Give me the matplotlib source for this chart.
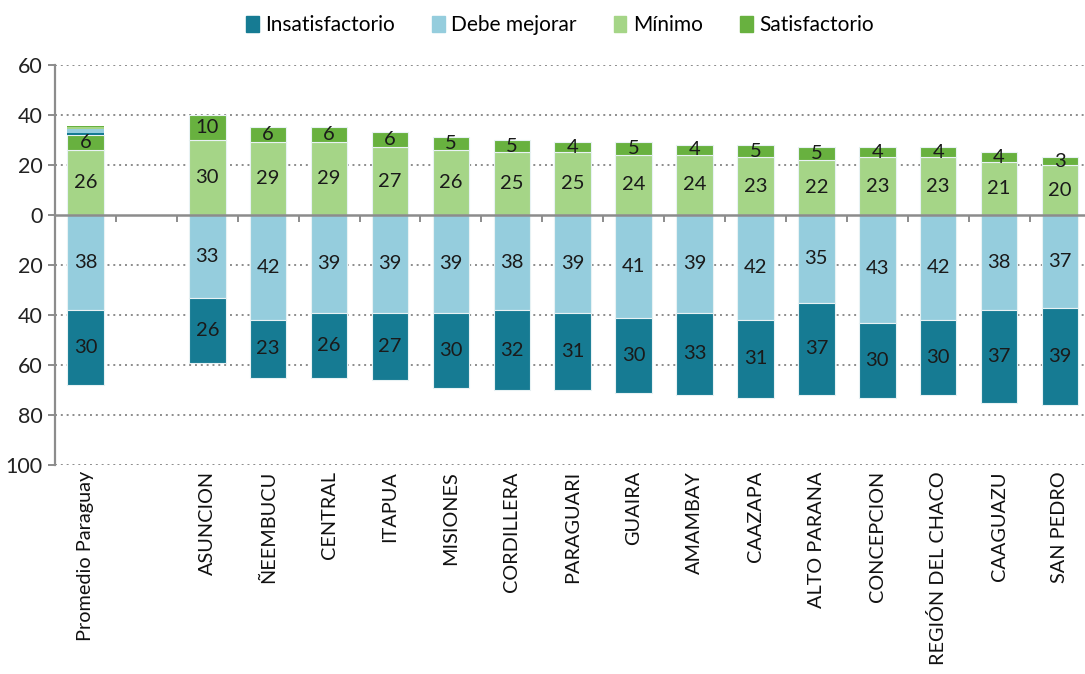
import matplotlib

matplotlib.use("Agg")
import matplotlib.pyplot as plt
import numpy as np
from matplotlib.patches import Patch

plt.rcParams["font.family"] = ["Lato", "DejaVu Sans"]

# departments, with an empty slot between the national average and the rest
regions = ["Promedio Paraguay", "", "ASUNCION", "ÑEEMBUCU", "CENTRAL", "ITAPUA",
           "MISIONES", "CORDILLERA", "PARAGUARI", "GUAIRA", "AMAMBAY", "CAAZAPA",
           "ALTO PARANA", "CONCEPCION", "REGIÓN DEL CHACO", "CAAGUAZU", "SAN PEDRO"]
satisfactorio = [6, None, 10, 6, 6, 6, 5, 5, 4, 5, 4, 5, 5, 4, 4, 4, 3]
minimo = [26, None, 30, 29, 29, 27, 26, 25, 25, 24, 24, 23, 22, 23, 23, 21, 20]
debe_mejorar = [38, None, 33, 42, 39, 39, 39, 38, 39, 41, 39, 42, 35, 43, 42, 38, 37]
insatisfactorio = [30, None, 26, 23, 26, 27, 30, 32, 31, 30, 33, 31, 37, 30, 30, 37, 39]
# thin leftover strip stacked on the average bar (Insat., Debe, Mín., Satisf.)
promedio_strip = [0.7, 1.5, 1.0, 0.5]

COLORS = {"Insatisfactorio": "#167b93", "Debe mejorar": "#95cddd",
          "Mínimo": "#a5d587", "Satisfactorio": "#68b13f"}
W = 0.6
FS = 15.5


def arr(v):
    return np.array([np.nan if x is None else x for x in v], dtype=float)


sat, mini, deb, ins = arr(satisfactorio), arr(minimo), arr(debe_mejorar), arr(insatisfactorio)
x = np.arange(len(regions))

fig = plt.figure(figsize=(10.85, 6.74), dpi=100)
ax = fig.add_axes([0.0507, 0.310, 0.9543, 0.5936])

kw = dict(width=W, edgecolor="#e8f2f4", linewidth=0.8, zorder=3)
ax.bar(x, mini, color=COLORS["Mínimo"], **kw)
ax.bar(x, sat, bottom=mini, color=COLORS["Satisfactorio"], **kw)
ax.bar(x, -deb, color=COLORS["Debe mejorar"], **kw)
ax.bar(x, -ins, bottom=-deb, color=COLORS["Insatisfactorio"], **kw)

# strip on top of the average bar
base = mini[0] + sat[0]
for val, name in zip(promedio_strip, COLORS):
    ax.bar(x[0], val, bottom=base, width=W, color=COLORS[name], linewidth=0, zorder=3)
    base += val

lab = dict(ha="center", va="center", fontsize=14.5, color="#1a1a1a", zorder=4)
for i in x:
    if np.isnan(mini[i]):
        continue
    ax.text(i, mini[i] / 2, f"{mini[i]:.0f}", **lab)
    ax.text(i, mini[i] + sat[i] / 2, f"{sat[i]:.0f}", **lab)
    ax.text(i, -deb[i] / 2, f"{deb[i]:.0f}", **lab)
    ax.text(i, -deb[i] - ins[i] / 2, f"{ins[i]:.0f}", **lab)

ax.set_xlim(-0.5, len(regions) - 0.5)
ax.set_ylim(-100, 60)
yt = np.arange(-100, 61, 20)
ax.set_yticks(yt)
ax.set_yticklabels([f"{abs(v)}" for v in yt], fontsize=FS, color="#222")
for v in yt:
    if v != 0:
        ax.axhline(v, color="#8c8c8c", lw=1.4, ls=(0, (1, 2)), zorder=1)

for s in ("top", "right"):
    ax.spines[s].set_visible(False)
ax.spines["left"].set_color("#8c8c8c")
ax.spines["left"].set_linewidth(1.6)
ax.spines["bottom"].set_position(("data", 0))
ax.spines["bottom"].set_color("#8c8c8c")
ax.spines["bottom"].set_linewidth(1.8)
ax.spines["bottom"].set_zorder(5)
ax.tick_params(axis="y", length=5, width=1.4, color="#8c8c8c", pad=4)
ax.set_xticks(x)
ax.set_xticklabels([])
ax.tick_params(axis="x", which="major", length=0)
ax.set_xticks(x[:-1] + 0.5, minor=True)
ax.tick_params(axis="x", which="minor", length=5, width=1.4, color="#8c8c8c")

for i, name in enumerate(regions):
    ax.text(i, -0.015, name, transform=ax.get_xaxis_transform(), rotation=90,
            ha="center", va="top", fontsize=14.3, color="#111")

handles = [Patch(color=c, label=n) for n, c in COLORS.items()]
fig.legend(handles=handles, loc="upper center", bbox_to_anchor=(0.516, 1.005), ncol=4,
           frameon=False, fontsize=15, handlelength=0.6, handleheight=0.8,
           handletextpad=0.3, columnspacing=1.8)

fig.savefig("out.png", dpi=100)
